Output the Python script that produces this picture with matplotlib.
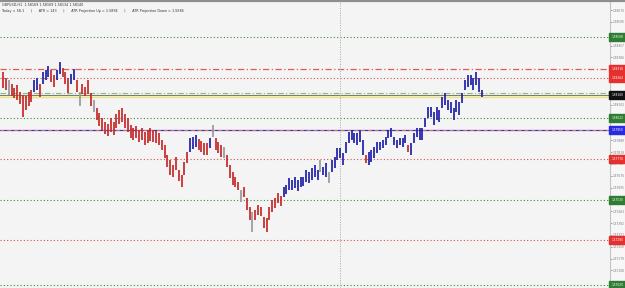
import matplotlib
matplotlib.use("Agg")
import matplotlib.pyplot as plt
import matplotlib.transforms as mtransforms
from matplotlib.lines import Line2D

# GBPUSD H1 bars (prices)
highs = [
    1.58298, 1.58262, 1.58250, 1.58226, 1.58202, 1.58220, 1.58178, 1.58160, 1.58154, 1.58178,
    1.58190, 1.58250, 1.58262, 1.58226, 1.58298, 1.58310, 1.58334, 1.58310, 1.58280, 1.58310,
    1.58358, 1.58322, 1.58298, 1.58262, 1.58286, 1.58316, 1.58250, 1.58178, 1.58226, 1.58208,
    1.58250, 1.58172, 1.58130, 1.58082, 1.58052, 1.58022, 1.57998, 1.57986, 1.58022, 1.57998,
    1.58046, 1.58070, 1.58082, 1.58046, 1.58022, 1.57980, 1.57962, 1.57974, 1.57950, 1.57962,
    1.57938, 1.57950, 1.57962, 1.57950, 1.57944, 1.57932, 1.57890, 1.57860, 1.57800, 1.57770,
    1.57740, 1.57788, 1.57710, 1.57680, 1.57758, 1.57818, 1.57902, 1.57908, 1.57920, 1.57896,
    1.57884, 1.57872, 1.57872, 1.57902, 1.57980, 1.57902, 1.57878, 1.57860, 1.57848, 1.57800,
    1.57740, 1.57698, 1.57668, 1.57638, 1.57590, 1.57608, 1.57542, 1.57488, 1.57458, 1.57470,
    1.57500, 1.57488, 1.57428, 1.57422, 1.57488, 1.57530, 1.57542, 1.57572, 1.57554, 1.57608,
    1.57620, 1.57662, 1.57650, 1.57668, 1.57650, 1.57668, 1.57668, 1.57710, 1.57698, 1.57722,
    1.57740, 1.57710, 1.57770, 1.57728, 1.57752, 1.57698, 1.57770, 1.57788, 1.57842, 1.57842,
    1.57812, 1.57878, 1.57938, 1.57950, 1.57932, 1.57932, 1.57944, 1.57890, 1.57800, 1.57818,
    1.57830, 1.57848, 1.57878, 1.57878, 1.57890, 1.57908, 1.57950, 1.57962, 1.57908, 1.57890,
    1.57902, 1.57902, 1.57920, 1.57860, 1.57872, 1.57932, 1.57962, 1.57962, 1.57962, 1.58022,
    1.58088, 1.58088, 1.58058, 1.58088, 1.58070, 1.58148, 1.58172, 1.58130, 1.58118, 1.58082,
    1.58130, 1.58118, 1.58172, 1.58250, 1.58280, 1.58280, 1.58262, 1.58298, 1.58262, 1.58190,
]
lows = [
    1.58202, 1.58190, 1.58160, 1.58154, 1.58142, 1.58130, 1.58106, 1.58028, 1.58070, 1.58094,
    1.58118, 1.58178, 1.58190, 1.58148, 1.58226, 1.58250, 1.58268, 1.58238, 1.58208, 1.58250,
    1.58286, 1.58268, 1.58226, 1.58172, 1.58226, 1.58250, 1.58178, 1.58094, 1.58166, 1.58154,
    1.58166, 1.58094, 1.58058, 1.58010, 1.57974, 1.57950, 1.57926, 1.57914, 1.57938, 1.57920,
    1.57962, 1.57986, 1.57998, 1.57962, 1.57938, 1.57902, 1.57890, 1.57902, 1.57878, 1.57890,
    1.57860, 1.57872, 1.57884, 1.57878, 1.57872, 1.57860, 1.57830, 1.57782, 1.57728, 1.57680,
    1.57668, 1.57710, 1.57644, 1.57608, 1.57680, 1.57752, 1.57818, 1.57836, 1.57848, 1.57830,
    1.57818, 1.57800, 1.57800, 1.57842, 1.57908, 1.57830, 1.57812, 1.57788, 1.57782, 1.57728,
    1.57662, 1.57620, 1.57608, 1.57590, 1.57518, 1.57548, 1.57470, 1.57410, 1.57338, 1.57410,
    1.57440, 1.57434, 1.57362, 1.57338, 1.57410, 1.57458, 1.57482, 1.57512, 1.57494, 1.57548,
    1.57566, 1.57590, 1.57590, 1.57602, 1.57584, 1.57608, 1.57614, 1.57638, 1.57632, 1.57650,
    1.57668, 1.57650, 1.57698, 1.57680, 1.57668, 1.57632, 1.57698, 1.57722, 1.57770, 1.57782,
    1.57740, 1.57812, 1.57872, 1.57890, 1.57872, 1.57860, 1.57878, 1.57800, 1.57752, 1.57740,
    1.57758, 1.57782, 1.57812, 1.57830, 1.57842, 1.57860, 1.57902, 1.57908, 1.57860, 1.57842,
    1.57860, 1.57848, 1.57872, 1.57818, 1.57800, 1.57872, 1.57908, 1.57890, 1.57890, 1.57968,
    1.58022, 1.58028, 1.57980, 1.58010, 1.57998, 1.58082, 1.58100, 1.58070, 1.58052, 1.58010,
    1.58058, 1.58040, 1.58112, 1.58190, 1.58208, 1.58220, 1.58190, 1.58220, 1.58178, 1.58148,
]
bar_trend = (
    "rrgrrrrrrr" "rbbrbbbrrb" "brrrbbrgrr" "rrgrrrrrrr" "rrrrrrrrrr"
    "rrrrrrrrrr" "rrrrrrbbbr" "rrrbgrrrgr" "rrrrgrrrgr" "rrrrrrrrrb"
    "bbbbbbbbbb" "bbgbbgbbbb" "bbbbbbbbrb" "bbbbbbbbbb" "bbbrbbbbbb"
    "bbbbbbbbbb" "bbbbbbbbbb"
)

# horizontal levels drawn on the chart
level_prices = [1.58508, 1.58316, 1.58262, 1.58172, 1.58160, 1.58148,
                1.58022, 1.57950, 1.57776, 1.57530, 1.57290, 1.57020]
level_labels = ["1.58508", "1.58316", "1.58262", "", "1.58160", "",
                "1.58022", "1.57950", "1.57776", "1.57530", "1.57290", "1.57020"]

tick_prices = [1.58670, 1.58599, 1.58528, 1.58457, 1.58386, 1.58315, 1.58244, 1.58173,
               1.58102, 1.58031, 1.57960, 1.57889, 1.57818, 1.57747, 1.57676, 1.57605,
               1.57534, 1.57463, 1.57392, 1.57321, 1.57250, 1.57179, 1.57108, 1.57037]

header_1 = "GBPUSD,H1  1.58169 1.58169 1.58134 1.58140"
header_2 = ("Today = 58.1      |      ATR = 143      |      ATR Projection Up = 1.5894"
            "      |      ATR Projection Down = 1.5686")
separator_bar = 118.9

bar_colors = {"r": "#c62828", "b": "#1f1fa8", "g": "#9a9a9a"}
line_styles = [
    ("#3d8b3d", (0, (1, 2)), 0.8, "#2e7d32"),
    ("#e05a5a", (0, (5, 2, 1, 2)), 0.9, "#e53030"),
    ("#d65050", (0, (1, 2)), 0.8, "#e53030"),
    ("#7fbf7f", (0, (5, 2, 1, 2)), 0.8, None),
    ("#7d7d6a", "-", 0.8, "#111111"),
    ("#eee27a", "-", 1.0, None),
    ("#3d8b3d", (0, (1, 2)), 0.8, "#2e7d32"),
    ("#3535c0", "-", 0.9, "#2a2ae0"),
    ("#d65050", (0, (1, 2)), 0.8, "#e53030"),
    ("#3d8b3d", (0, (1, 2)), 0.8, "#2e7d32"),
    ("#d65050", (0, (1, 2)), 0.8, "#e53030"),
    ("#3d8b3d", (0, (1, 2)), 0.8, "#2e7d32"),
]

fig = plt.figure(figsize=(6.25, 2.88), dpi=100, facecolor="#f7f7f7")
ax = fig.add_axes([0, 0, 610 / 625, 1])
ax.set_facecolor("#f4f4f4")

# levels
for price, (col, ls, lw, box) in zip(level_prices, line_styles):
    ax.axhline(price, color=col, linestyle=ls, linewidth=lw, zorder=1)
# red dashed overlay on the blue line
ax.axhline(level_prices[7], color="#e06a6a", linestyle=(0, (4, 3)), linewidth=0.7, zorder=1.1)

ax.axvline(separator_bar, color="#a8a8a8", linestyle=(0, (1, 1.5)), linewidth=0.7, zorder=1)

# bars
idx = list(range(len(highs)))
cols = [bar_colors[c] for c in bar_trend]
ax.vlines(idx, lows, highs, colors=cols, linewidth=1.25, zorder=3)

ax.set_xlim(-1.06, 214.2)
ax.set_ylim(1.57002, 1.58730)

# right price scale; labels hidden under a price box are left out, as in the terminal
boxed = [p for p, s in zip(level_prices, line_styles) if s[3] is not None]
shown = [t for t in tick_prices if min(abs(t - b) for b in boxed) > 0.00024]
ax.yaxis.tick_right()
ax.set_yticks(tick_prices)
ax.set_yticklabels([f"{t:.5f}" if t in shown else "" for t in tick_prices])
ax.tick_params(axis="y", labelsize=2.1, colors="#777777", length=1.2, width=0.5, pad=0.8)
ax.set_xticks([])
for s in ["left", "bottom", "top"]:
    ax.spines[s].set_visible(False)
ax.spines["right"].set_color("#c4c4c4")
ax.spines["right"].set_linewidth(0.8)

# price boxes on the right scale
trans = mtransforms.blended_transform_factory(ax.transAxes, ax.transData)
for price, (col, ls, lw, box), lab in zip(level_prices, line_styles, level_labels):
    if box is None:
        continue
    ax.text(1.002, price, lab, transform=trans, fontsize=2.1, color="white",
            va="center", ha="left", clip_on=False, zorder=6,
            bbox=dict(facecolor=box, edgecolor=box, pad=0.7, boxstyle="square"))

# header text
ax.text(0.004, 0.990, header_1, transform=ax.transAxes, fontsize=2.4,
        color="#333333", va="top", ha="left")
ax.text(0.004, 0.969, header_2, transform=ax.transAxes, fontsize=2.4,
        color="#333333", va="top", ha="left")

# window border at the top
fig.add_artist(Line2D([0, 1], [0.997, 0.997], transform=fig.transFigure,
                      color="#8e8e8e", linewidth=1.6))

fig.savefig("out.png", dpi=100, facecolor=fig.get_facecolor())
